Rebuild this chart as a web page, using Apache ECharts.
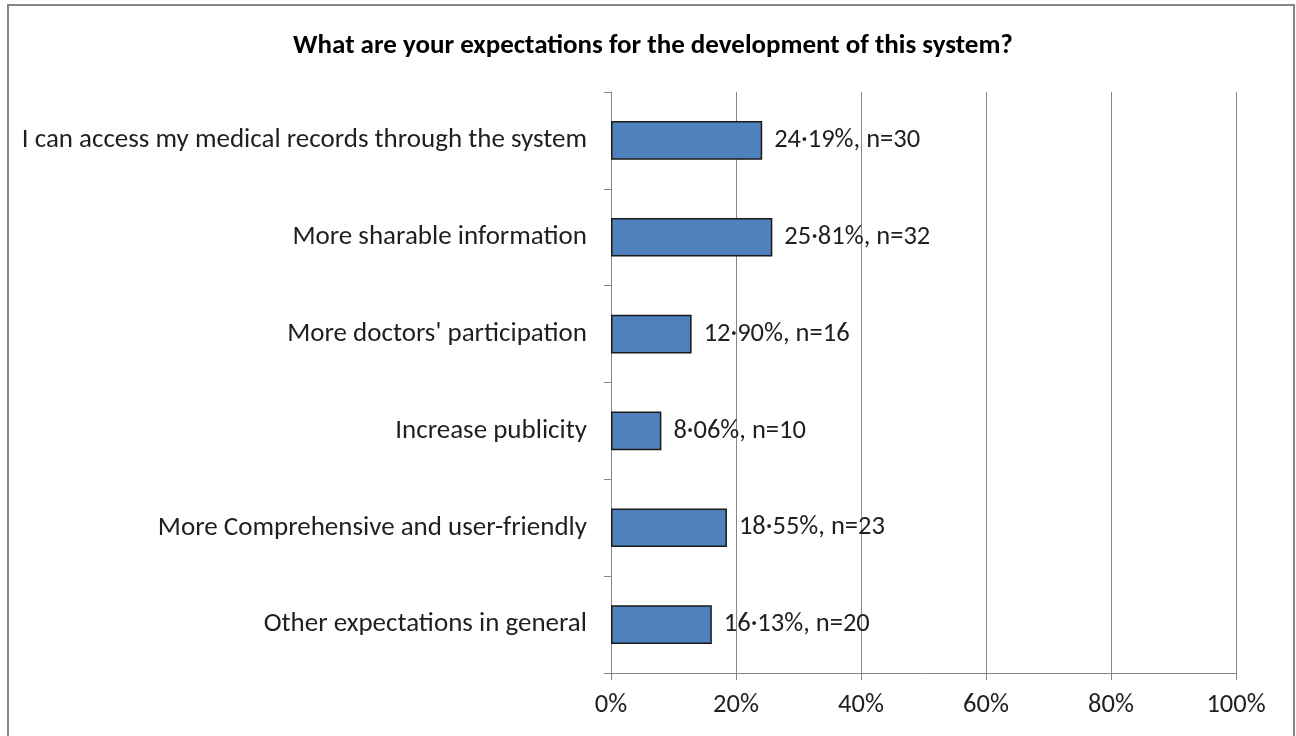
<!DOCTYPE html>
<html>
<head>
<meta charset="utf-8">
<script src="https://cdn.jsdelivr.net/npm/echarts@6/dist/echarts.min.js"></script>
<style>
html,body{margin:0;padding:0;background:#fff;}
#main{width:1296px;height:736px;}
</style>
</head>
<body>
<div id="main"></div>
<script>
const titleText = "What are your expectations for the development of this system?";
const categories = [
  "I can access my medical records through the system",
  "More sharable information",
  "More doctors' participation",
  "Increase publicity",
  "More Comprehensive and user-friendly",
  "Other expectations in general"
];
const percents = [24.19, 25.81, 12.90, 8.06, 18.55, 16.13];
const counts = [30, 32, 16, 10, 23, 20];
const xTicks = [0, 20, 40, 60, 80, 100];

const chart = echarts.init(document.getElementById('main'));
const font = "Carlito, Calibri, 'Open Sans', sans-serif";
chart.setOption({
  backgroundColor: '#fff',
  animation: false,
  graphic: [{
    type: 'rect',
    shape: {x: 8, y: 5, width: 1286, height: 800},
    style: {fill: 'none', stroke: '#878787', lineWidth: 2},
    silent: true
  }],
  title: {
    text: titleText,
    left: 648, top: 28, textAlign: 'center',
    textStyle: {fontFamily: font, fontSize: 27, fontWeight: 'bold', color: '#000'}
  },
  grid: {left: 611, right: 60, top: 92, bottom: 63, containLabel: false},
  xAxis: {
    type: 'value', min: xTicks[0], max: xTicks[xTicks.length - 1], interval: 20,
    axisLine: {show: true, lineStyle: {color: '#868686', width: 1}},
    axisTick: {show: true, length: 7, lineStyle: {color: '#868686'}},
    splitLine: {show: true, lineStyle: {color: '#868686', width: 1}},
    axisLabel: {formatter: '{value}%', fontFamily: font, fontSize: 26.5, color: '#1f1f1f', margin: 19}
  },
  yAxis: {
    type: 'category', data: categories, inverse: true,
    axisLine: {show: true, lineStyle: {color: '#868686', width: 1}},
    axisTick: {show: true, length: 7, alignWithLabel: false, lineStyle: {color: '#868686'}},
    axisLabel: {fontFamily: font, fontSize: 27, color: '#1f1f1f', margin: 24}
  },
  series: [{
    type: 'bar',
    data: percents,
    barWidth: '40%',
    itemStyle: {color: '#4F81BD', borderColor: '#1a1a1a', borderWidth: 1.5},
    label: {
      show: true, position: 'right', distance: 12,
      fontFamily: font, fontSize: 26.5, color: '#1f1f1f',
      formatter: p => p.value.toFixed(2).replace('.', '·') + '%, n=' + counts[p.dataIndex]
    }
  }]
});
</script>
</body>
</html>
